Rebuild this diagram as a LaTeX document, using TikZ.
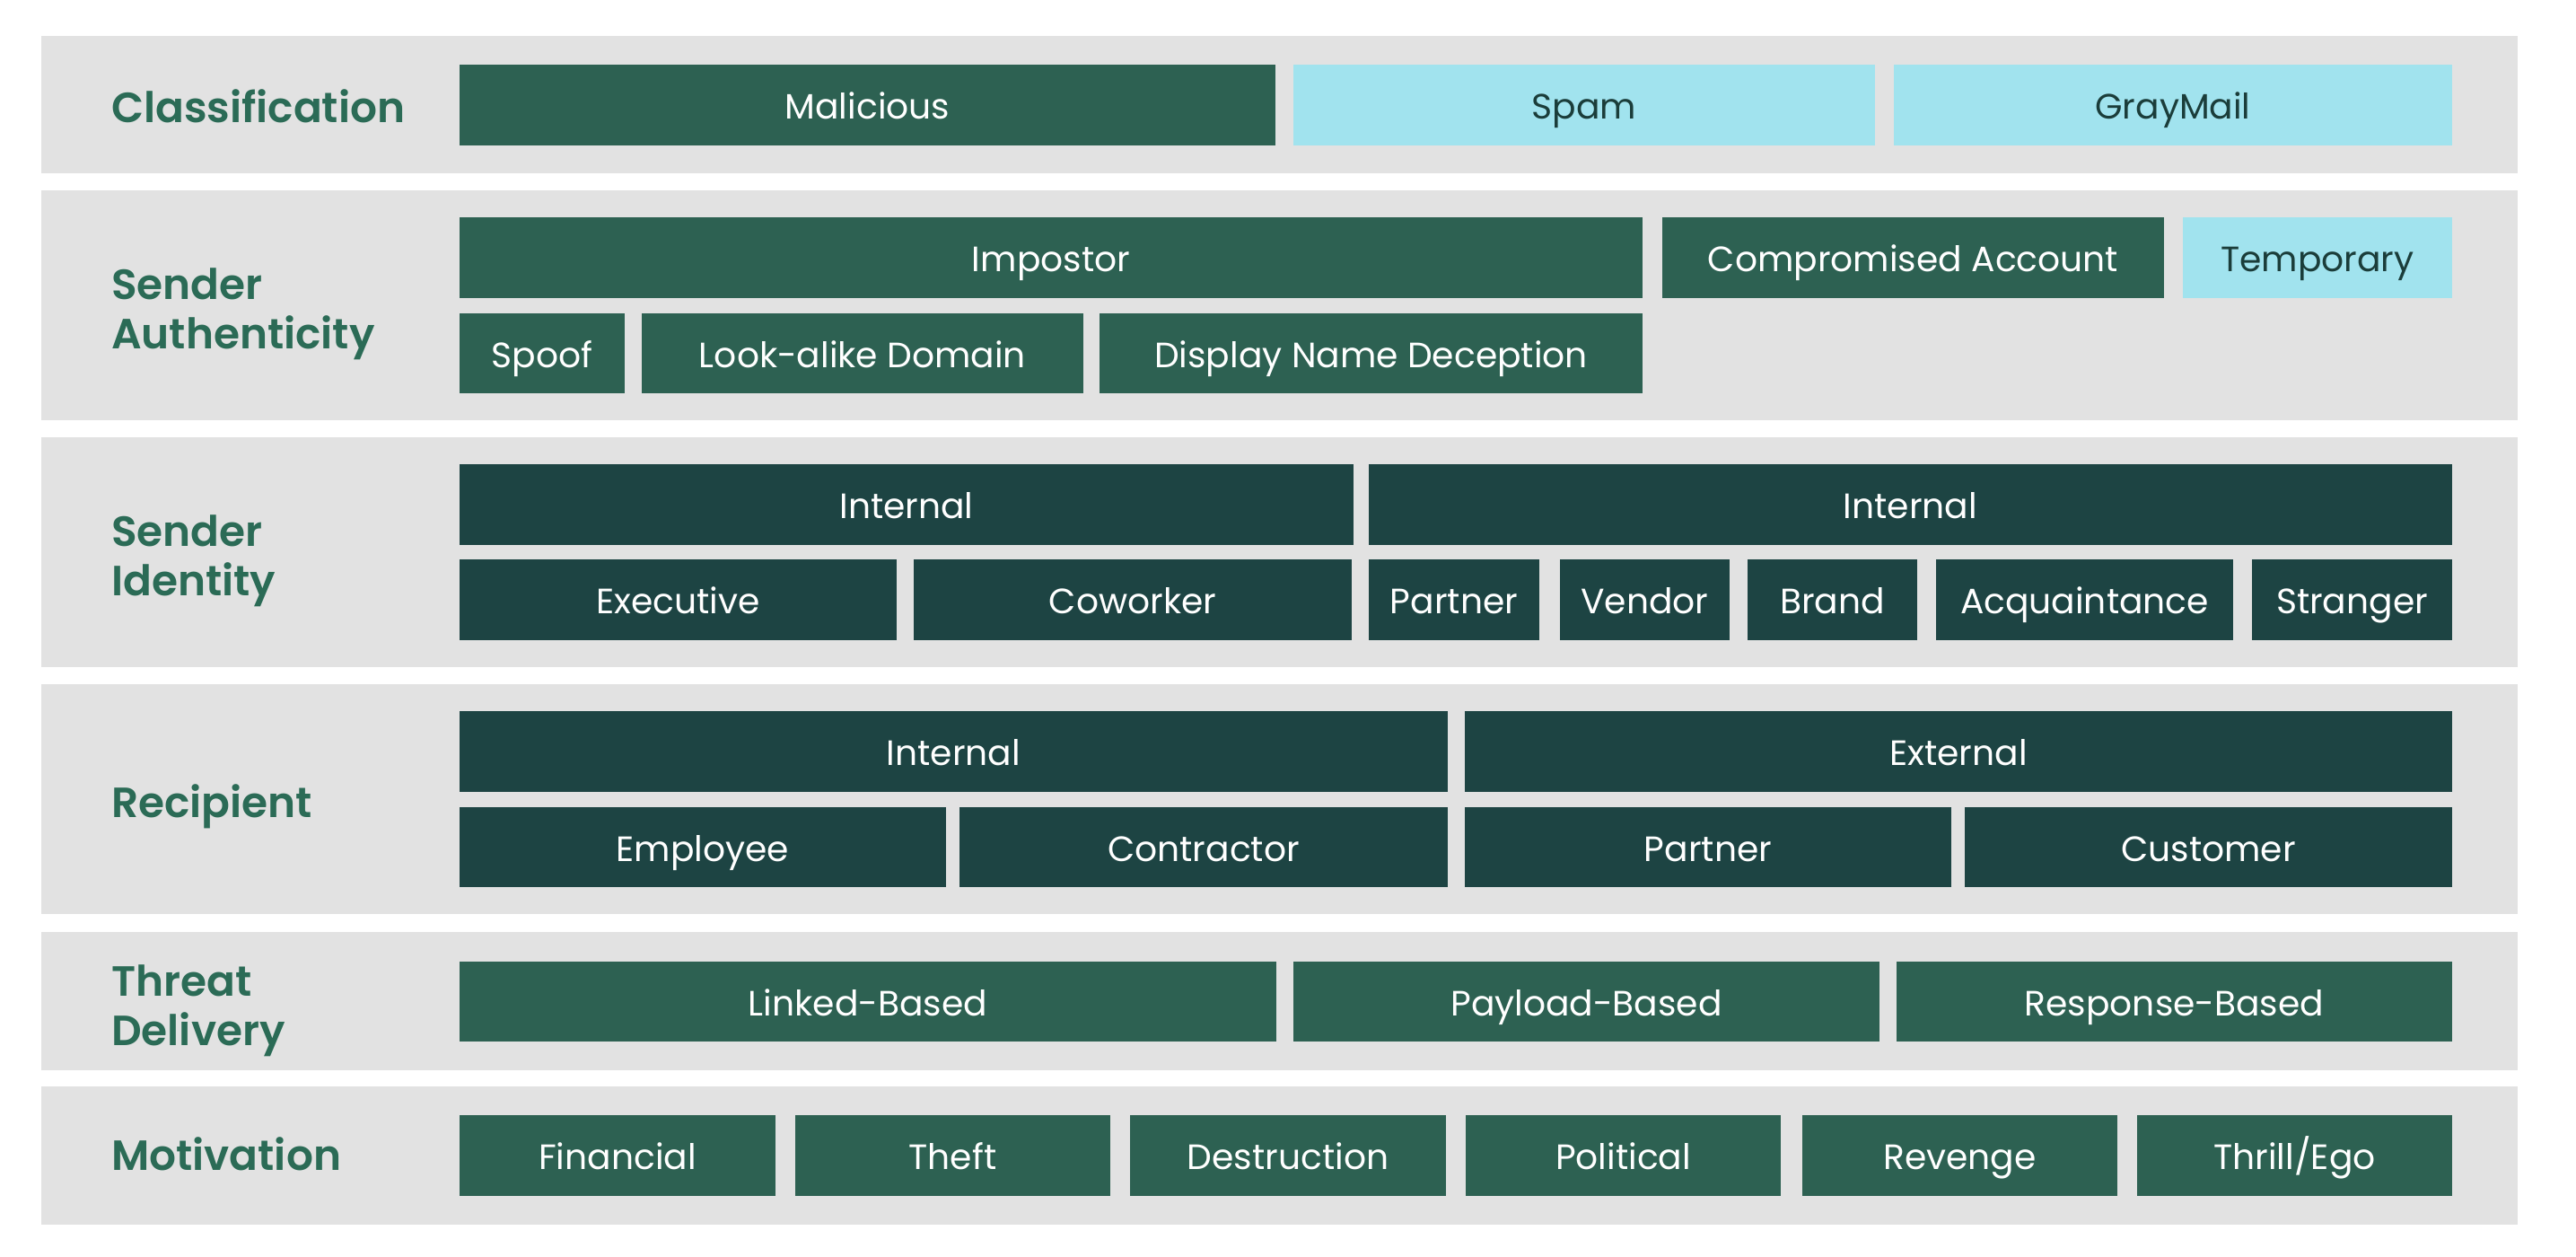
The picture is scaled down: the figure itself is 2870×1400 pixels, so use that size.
\documentclass[tikz,border=0pt]{standalone}
\usepackage{fontspec}
\setmainfont{Poppins}[BoldFont={Poppins SemiBold}]
\definecolor{bandgray}{HTML}{E2E2E2}
\definecolor{cgreen}{HTML}{2D6152}
\definecolor{cteal}{HTML}{1D4443}
\definecolor{ccyan}{HTML}{A1E3EE}
\definecolor{clabel}{HTML}{2B6B56}
\definecolor{cdark}{HTML}{1B3D3A}
\newcommand\mybox[7]{%
  \node[#6, minimum width={(#4)-(#2)}, minimum height={(#5)-(#3)}]
    (#1) at ({((#2)+(#4))/2},{((#3)+(#5))/2}) {#7};}
\newcommand\myband[3]{%
  \fill[bandgray] (46,#2) rectangle (2805,#3) coordinate (#1);}
\begin{document}
\begin{tikzpicture}[x=1pt,y=-1pt,
  boxbase/.style={inner sep=0pt, outer sep=0pt, text height=31pt, text depth=0pt,
     font=\fontsize{39.2}{47}\selectfont},
  gbox/.style={boxbase, fill=cgreen, text=white},
  tbox/.style={boxbase, fill=cteal, text=white},
  cbox/.style={boxbase, fill=ccyan, text=cdark},
  lbl/.style={anchor=west, inner sep=0pt, align=left, text=clabel,
     font=\fontsize{47}{55}\selectfont\bfseries}]
\fill[white] (0,0) rectangle (2870,1400);
\useasboundingbox (0,0) rectangle (2870,1400);
% bands
\myband{b1}{40}{193}
\myband{b2}{212}{468}
\myband{b3}{487}{743}
\myband{b4}{762}{1018}
\myband{b5}{1038}{1192}
\myband{b6}{1210}{1364}
% labels
\node[lbl, text height=34pt, text depth=0pt] (l1) at (124,119) {Classification};
\node[lbl] (l2) at (124,350) {Sender\\Authenticity};
\node[lbl] (l3) at (124,625) {Sender\\Identity};
\node[lbl, text height=34pt, text depth=0pt] (l4) at (124,893) {Recipient};
\node[lbl] (l5) at (124,1126) {Threat\\Delivery};
\node[lbl, text height=34pt, text depth=0pt] (l6) at (124,1286) {Motivation};
% Classification
\mybox{mal}{512}{72}{1421}{162}{gbox}{Malicious}
\mybox{spam}{1441}{72}{2089}{162}{cbox}{Spam}
\mybox{gray}{2110}{72}{2732}{162}{cbox}{GrayMail}
% Sender Authenticity
\mybox{imp}{512}{242}{1830}{332}{gbox}{Impostor}
\mybox{comp}{1852}{242}{2411}{332}{gbox}{Compromised Account}
\mybox{temp}{2432}{242}{2732}{332}{cbox}{Temporary}
\mybox{spoof}{512}{349}{696}{438}{gbox}{Spoof}
\mybox{look}{715}{349}{1207}{438}{gbox}{Look-alike Domain}
\mybox{disp}{1225}{349}{1830}{438}{gbox}{Display Name Deception}
% Sender Identity
\mybox{sint}{512}{517}{1508}{607}{tbox}{Internal}
\mybox{sint2}{1525}{517}{2732}{607}{tbox}{Internal}
\mybox{exec}{512}{623}{999}{713}{tbox}{Executive}
\mybox{cowk}{1018}{623}{1506}{713}{tbox}{Coworker}
\mybox{spart}{1525}{623}{1715}{713}{tbox}{Partner}
\mybox{vend}{1738}{623}{1927}{713}{tbox}{Vendor}
\mybox{brand}{1947}{623}{2136}{713}{tbox}{Brand}
\mybox{acq}{2157}{623}{2488}{713}{tbox}{Acquaintance}
\mybox{strg}{2509}{623}{2732}{713}{tbox}{Stranger}
% Recipient
\mybox{rint}{512}{792}{1613}{882}{tbox}{Internal}
\mybox{rext}{1632}{792}{2732}{882}{tbox}{External}
\mybox{empl}{512}{899}{1054}{988}{tbox}{Employee}
\mybox{cont}{1069}{899}{1613}{988}{tbox}{Contractor}
\mybox{rpart}{1632}{899}{2174}{988}{tbox}{Partner}
\mybox{cust}{2189}{899}{2732}{988}{tbox}{Customer}
% Threat Delivery
\mybox{link}{512}{1071}{1422}{1160}{gbox}{Linked-Based}
\mybox{payl}{1441}{1071}{2094}{1160}{gbox}{Payload-Based}
\mybox{resp}{2113}{1071}{2732}{1160}{gbox}{Response-Based}
% Motivation
\mybox{fin}{512}{1242}{864}{1332}{gbox}{Financial}
\mybox{theft}{886}{1242}{1237}{1332}{gbox}{Theft}
\mybox{destr}{1259}{1242}{1611}{1332}{gbox}{Destruction}
\mybox{pol}{1633}{1242}{1984}{1332}{gbox}{Political}
\mybox{rev}{2008}{1242}{2359}{1332}{gbox}{Revenge}
\mybox{thr}{2381}{1242}{2732}{1332}{gbox}{Thrill/Ego}
\end{tikzpicture}
\end{document}
